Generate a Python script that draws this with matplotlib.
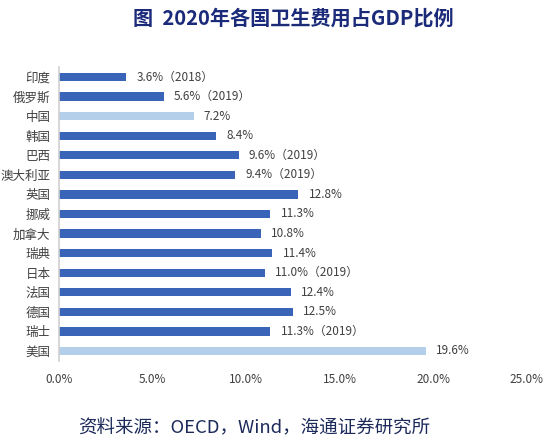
import matplotlib
matplotlib.use("Agg")
import matplotlib.pyplot as plt

plt.rcParams['font.family'] = ['Noto Sans CJK SC', 'DejaVu Sans']

countries = ["印度", "俄罗斯", "中国", "韩国", "巴西", "澳大利亚", "英国", "挪威",
             "加拿大", "瑞典", "日本", "法国", "德国", "瑞士", "美国"]
values = [3.6, 5.6, 7.2, 8.4, 9.6, 9.4, 12.8, 11.3, 10.8, 11.4, 11.0, 12.4, 12.5, 11.3, 19.6]
years = ["2018", "2019", "", "", "2019", "2019", "", "", "", "", "2019", "", "", "2019", ""]
highlight = ["中国", "美国"]
xticks = [0, 5, 10, 15, 20, 25]

dark = "#3a64b8"
light = "#b3cfe9"

fig = plt.figure(figsize=(5.5, 4.38), dpi=100)
ax = fig.add_axes([0.107, 0.1763, 0.851, 0.6703])

ypos = list(range(len(countries)))
colors = [light if c in highlight else dark for c in countries]
ax.barh(ypos, values, height=0.42, color=colors)
ax.set_ylim(len(countries) - 0.5, -0.5)
ax.set_xlim(0, 25)

for y, v, yr in zip(ypos, values, years):
    txt = f"{v:.1f}%" + (f"（{yr}）" if yr else "")
    ax.text(v + 0.55, y, txt, va="center", ha="left", fontsize=8.5, color="#404040")

ax.set_yticks(ypos)
ax.set_yticklabels(countries, fontsize=9, color="#404040")
ax.set_xticks(xticks)
ax.set_xticklabels([f"{t:.1f}%" for t in xticks], fontsize=8.5, color="#404040")
ax.tick_params(axis="both", length=0)
ax.tick_params(axis="x", pad=9)
ax.tick_params(axis="y", pad=6)
for s in ["top", "right", "bottom"]:
    ax.spines[s].set_visible(False)
ax.spines["left"].set_color("#d0d0d0")
ax.spines["left"].set_linewidth(1.2)

fig.text(0.533, 0.958, "图  2020年各国卫生费用占GDP比例", ha="center", va="center",
         fontsize=14.5, fontweight="bold", color="#1c2a7a")
fig.text(0.142, 0.023, "资料来源：OECD，Wind，海通证券研究所", ha="left", va="center",
         fontsize=13.3, color="#1c2a5a")

fig.savefig("out.png", dpi=100)
